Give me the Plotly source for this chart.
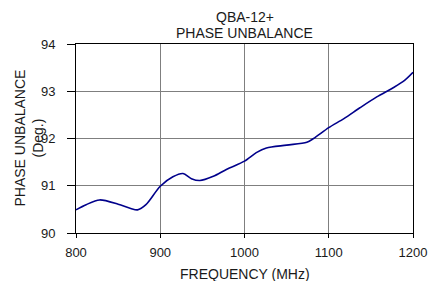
import plotly.graph_objects as go

freq = [800, 812, 828, 850, 865, 873, 883, 900, 915, 927, 937, 947, 963, 979, 1000, 1014, 1026, 1050, 1074, 1082, 1100, 1118, 1137, 1157, 1177, 1190, 1200]
phase = [90.49, 90.60, 90.70, 90.61, 90.52, 90.49, 90.60, 90.99, 91.19, 91.26, 91.15, 91.11, 91.20, 91.35, 91.52, 91.70, 91.80, 91.86, 91.92, 92.00, 92.23, 92.42, 92.65, 92.88, 93.08, 93.23, 93.40]

x_ticks = [800, 900, 1000, 1100, 1200]
y_ticks = [90, 91, 92, 93, 94]

FAM = "Liberation Sans, Arial, sans-serif"
TXT = "#1a1a1a"

fig = go.Figure()
fig.add_trace(go.Scatter(x=freq, y=phase, mode="lines",
                         line=dict(color="#00008B", width=1.6, shape="spline", smoothing=0.8),
                         showlegend=False))

ann = dict(xref="paper", yref="paper", showarrow=False, font=dict(family=FAM, size=14, color=TXT))
fig.update_layout(
    width=428, height=281,
    margin=dict(l=76, r=15, t=44, b=48),
    paper_bgcolor="white", plot_bgcolor="white",
    font=dict(family=FAM, size=13, color=TXT),
    annotations=[
        dict(ann, text="QBA-12+", x=0.5, y=1, xanchor="center", yanchor="middle", yshift=27.5),
        dict(ann, text="PHASE UNBALANCE", x=0.5, y=1, xanchor="center", yanchor="middle", yshift=11.5),
        dict(ann, text="FREQUENCY (MHz)", x=0.5, y=0, xanchor="center", yanchor="middle", yshift=-41),
        dict(ann, text="PHASE UNBALANCE", x=0, y=0.5, xanchor="center", yanchor="middle",
             textangle=-90, xshift=-57),
        dict(ann, text="(Deg.)", x=0, y=0.5, xanchor="center", yanchor="middle",
             textangle=-90, xshift=-39),
    ],
)
fig.update_xaxes(range=[800, 1200], tickvals=x_ticks, showgrid=True, gridcolor="#7f7f7f", gridwidth=1,
                 showline=True, linecolor="black", linewidth=1, mirror=True,
                 ticks="outside", ticklen=4, tickcolor="black", zeroline=False,
                 ticklabelstandoff=3, automargin=False)
fig.update_yaxes(range=[90, 94], tickvals=y_ticks, showgrid=True, gridcolor="#7f7f7f", gridwidth=1,
                 showline=True, linecolor="black", linewidth=1, mirror=True,
                 ticks="outside", ticklen=8, tickcolor="black", zeroline=False,
                 ticklabelstandoff=9, automargin=False)

fig.write_html("out.html", config={"displayModeBar": False},
               post_script="document.body.style.margin='0';document.body.style.overflow='hidden';")
